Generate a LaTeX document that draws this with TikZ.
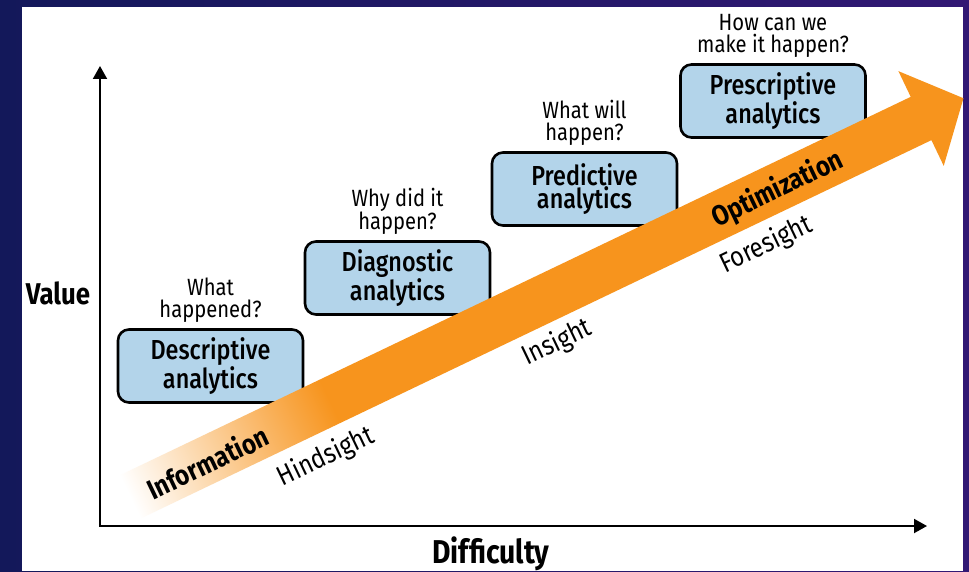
\documentclass[tikz,border=0pt]{standalone}
\usepackage{fontspec}
\setmainfont{Fira Sans}[FakeStretch=0.86]
\newfontfamily\medfont{Fira Sans Medium}[FakeStretch=0.85]
\usetikzlibrary{arrows.meta}
\definecolor{navyL}{HTML}{13185A}
\definecolor{navyR}{HTML}{321874}
\definecolor{boxblue}{HTML}{B3D4EA}
\definecolor{arroworange}{HTML}{F7941D}
\pgfdeclarehorizontalshading{arrowfade}{100bp}{color(0bp)=(white); color(25bp)=(white); color(37bp)=(arroworange); color(100bp)=(arroworange)}
\begin{document}
\begin{tikzpicture}[x=1pt,y=1pt,
  stage/.style={draw=black, line width=2.6pt, fill=boxblue, rounded corners=11pt, minimum width=185pt, minimum height=73pt, inner sep=0pt, align=center, font=\medfont\fontsize{27.5}{23.5}\selectfont},
  question/.style={align=center, inner sep=0pt, anchor=south, font=\fontsize{23.5}{22}\selectfont},
  axislabel/.style={font=\bfseries\fontsize{30}{30}\selectfont, inner sep=0pt, anchor=base},
  arrowbold/.style={font=\bfseries\fontsize{28}{28}\selectfont, inner sep=0pt, rotate=25.57},
  arrowsub/.style={font=\fontsize{27.5}{27.5}\selectfont, inner sep=0pt, rotate=25.57},
  axisline/.style={line width=2pt, {Triangle[length=13pt,width=14pt]}-{Triangle[length=13pt,width=14pt]}}
]
\useasboundingbox (0,0) rectangle (969,571);
\shade[left color=navyL, right color=navyR] (0,0) rectangle (969,571);
\fill[white] (22,0) rectangle (963,564);

% stage boxes
\node[stage] (desc)  at (210.5,205) {Descriptive\\analytics};
\node[stage] (diag)  at (397.5,293) {Diagnostic\\analytics};
\node[stage] (pred)  at (584.5,382) {Predictive\\analytics};
\node[stage] (presc) at (773,470)   {Prescriptive\\analytics};

% questions
\node[question] (q1) at ([yshift=5pt]desc.north)  {What\\happened?};
\node[question] (q2) at ([yshift=5pt]diag.north)  {Why did it\\happen?};
\node[question] (q3) at ([yshift=5pt]pred.north)  {What will\\happen?};
\node[question] (q4) at ([yshift=5pt]presc.north) {How can we\\make it happen?};

% big arrow
\begin{scope}[transform canvas={shift={(130pt,74pt)}, rotate=25.57}]
\shade[shading=arrowfade] (0,-24) -- (877,-24) -- (877,-52.5) -- (924,0) -- (877,52.5) -- (877,24) -- (0,24) -- cycle;
\end{scope}

\begin{scope}[shift={(130,74)}, rotate=25.57]
\node[arrowbold] (info) at (85,-2) {Information};
\node[arrowbold] (optim) at (717,-2) {Optimization};
\node[arrowsub] (hind) at (194,-48.5) {Hindsight};
\node[arrowsub] (ins) at (451.7,-45.4) {Insight};
\node[arrowsub] (fore) at (682.5,-47.2) {Foresight};
\end{scope}

% axes
\coordinate (origin) at (100,45);
\coordinate (ytop) at (100,505);
\coordinate (xend) at (927,45);
\draw[axisline] (ytop) -- (origin) -- (xend);

\node[axislabel] (value) at (58,266) {Value};
\node[axislabel, font=\bfseries\fontsize{33}{33}\selectfont] (difficulty) at (491,7.5) {Difficulty};
\end{tikzpicture}
\end{document}
